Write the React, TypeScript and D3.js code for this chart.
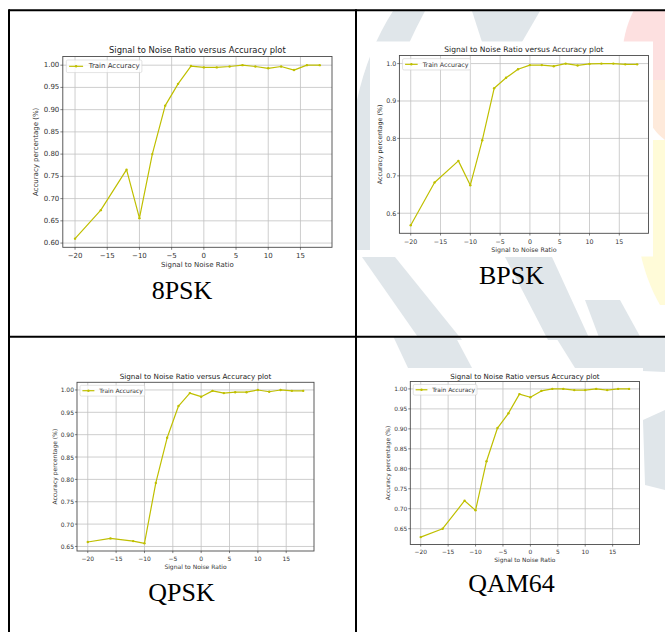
import React from "react";
import * as d3 from "d3";

// Signal-to-noise ratios (dB) at which accuracy was recorded
const SNR = [-20, -16, -12, -10, -8, -6, -4, -2, 0, 2, 4, 6, 8, 10, 12, 14, 16, 18];

// Training accuracy per modulation scheme
const ACC_8PSK = [0.61, 0.674, 0.765, 0.656, 0.8, 0.909, 0.958, 0.998, 0.995, 0.995, 0.997, 1.0, 0.997, 0.993, 0.997, 0.989, 1.0, 1.0];
const ACC_BPSK = [0.568, 0.682, 0.74, 0.675, 0.795, 0.934, 0.962, 0.985, 0.996, 0.996, 0.993, 1.0, 0.995, 0.999, 1.0, 1.0, 0.998, 0.998];
const ACC_QPSK = [0.66, 0.668, 0.662, 0.657, 0.792, 0.893, 0.964, 0.993, 0.985, 0.998, 0.993, 0.995, 0.995, 1.0, 0.996, 1.0, 0.998, 0.998];
const ACC_QAM64 = [0.629, 0.65, 0.72, 0.696, 0.819, 0.902, 0.939, 0.987, 0.979, 0.995, 1.0, 1.0, 0.997, 0.997, 1.0, 0.997, 1.0, 1.0];

// Tick values
const X_TICKS = [-20, -15, -10, -5, 0, 5, 10, 15];
const Y_TICKS_005 = [0.6, 0.65, 0.7, 0.75, 0.8, 0.85, 0.9, 0.95, 1.0];
const Y_TICKS_01 = [0.6, 0.7, 0.8, 0.9, 1.0];

const TITLE = "Signal to Noise Ratio versus Accuracy plot";
const X_LABEL = "Signal to Noise Ratio";
const Y_LABEL = "Accuracy percentage (%)";
const LEGEND_LABEL = "Train Accuracy";

const LINE_COLOR = "#bfbf00";
const FONT = "'DejaVu Sans', sans-serif";

type PanelSpec = {
  caption: string;
  values: number[];
  yTicks: number[];
  yFormat: string;
  frame: { x0: number; x1: number; y0: number; y1: number };
  font: number;
  captionPos: { x: number; y: number };
  backdrop?: { x: number; y: number; w: number; h: number };
};

const PANELS: PanelSpec[] = [
  {
    caption: "8PSK",
    values: ACC_8PSK,
    yTicks: Y_TICKS_005,
    yFormat: ".2f",
    frame: { x0: 62.8, x1: 332, y0: 56.5, y1: 247.3 },
    font: 7,
    captionPos: { x: 182, y: 299 },
  },
  {
    caption: "BPSK",
    values: ACC_BPSK,
    yTicks: Y_TICKS_01,
    yFormat: ".1f",
    frame: { x0: 399.4, x1: 648.5, y0: 55.5, y1: 233.3 },
    font: 6.3,
    captionPos: { x: 511.5, y: 283.5 },
    backdrop: { x: 370, y: 41.5, w: 283, h: 215 },
  },
  {
    caption: "QPSK",
    values: ACC_QPSK,
    yTicks: Y_TICKS_005,
    yFormat: ".2f",
    frame: { x0: 77, x1: 314, y0: 382.3, y1: 551 },
    font: 6,
    captionPos: { x: 181.5, y: 600.5 },
  },
  {
    caption: "QAM64",
    values: ACC_QAM64,
    yTicks: Y_TICKS_005,
    yFormat: ".2f",
    frame: { x0: 410.3, x1: 639.5, y0: 381.5, y1: 544.5 },
    font: 5.9,
    captionPos: { x: 511.5, y: 591.5 },
    backdrop: { x: 378, y: 368, w: 265, h: 200 },
  },
];

// Axis limits padded by 5% of the data span on each side
function padded(vals: number[]): [number, number] {
  const [lo, hi] = d3.extent(vals) as [number, number];
  const m = (hi - lo) * 0.05;
  return [lo - m, hi + m];
}

function Panel({ p }: { p: PanelSpec }) {
  const { frame, font } = p;
  const x = d3.scaleLinear().domain(padded(SNR)).range([frame.x0, frame.x1]);
  const y = d3.scaleLinear().domain(padded(p.values)).range([frame.y1, frame.y0]);
  const [ylo, yhi] = y.domain();
  const yTicks = p.yTicks.filter((t) => t >= ylo - 1e-9 && t <= yhi + 1e-9);
  const fmtY = d3.format(p.yFormat);
  const fmtX = d3.format("d");
  const tickLen = font * 0.35;
  const pts = SNR.map((s, i) => [s, p.values[i]] as [number, number]);
  const line = d3
    .line<[number, number]>()
    .x((d) => x(d[0]))
    .y((d) => y(d[1]));
  const tickEm = p.yFormat === ".2f" ? 2.227 : 1.59;
  const yLabelX = frame.x0 - font * (0.5 + tickEm + 1.1);
  const midX = (frame.x0 + frame.x1) / 2;
  const midY = (frame.y0 + frame.y1) / 2;

  // legend box geometry
  const lgX = frame.x0 + font * 0.5;
  const lgY = frame.y0 + font * 0.5;
  const lgW = font * 10.8;
  const lgH = font * 1.8;
  const lgMid = lgY + lgH / 2;

  const clipId = `clip-${p.caption}`;

  return (
    <g>
      {p.backdrop && (
        <rect x={p.backdrop.x} y={p.backdrop.y} width={p.backdrop.w} height={p.backdrop.h} fill="#ffffff" />
      )}
      <defs>
        <clipPath id={clipId}>
          <rect x={frame.x0} y={frame.y0} width={frame.x1 - frame.x0} height={frame.y1 - frame.y0} />
        </clipPath>
      </defs>
      {/* grid */}
      <g stroke="#c2c2c2" strokeWidth={0.8}>
        {X_TICKS.map((t) => (
          <line key={`gx${t}`} x1={x(t)} x2={x(t)} y1={frame.y0} y2={frame.y1} />
        ))}
        {yTicks.map((t) => (
          <line key={`gy${t}`} x1={frame.x0} x2={frame.x1} y1={y(t)} y2={y(t)} />
        ))}
      </g>
      {/* series */}
      <g clipPath={`url(#${clipId})`}>
        <path d={line(pts) ?? ""} fill="none" stroke={LINE_COLOR} strokeWidth={1.2} strokeLinejoin="round" />
        {pts.map((d, i) => (
          <circle key={i} cx={x(d[0])} cy={y(d[1])} r={1.2} fill={LINE_COLOR} />
        ))}
      </g>
      {/* frame */}
      <rect
        x={frame.x0}
        y={frame.y0}
        width={frame.x1 - frame.x0}
        height={frame.y1 - frame.y0}
        fill="none"
        stroke="#4a4a4a"
        strokeWidth={0.9}
      />
      {/* ticks and labels */}
      <g fontFamily={FONT} fontSize={font} fill="#333">
        {X_TICKS.map((t) => (
          <g key={`tx${t}`}>
            <line x1={x(t)} x2={x(t)} y1={frame.y1} y2={frame.y1 + tickLen} stroke="#333" strokeWidth={0.6} />
            <text x={x(t)} y={frame.y1 + font * 1.25} textAnchor="middle" dominantBaseline="central">
              {fmtX(t)}
            </text>
          </g>
        ))}
        {yTicks.map((t) => (
          <g key={`ty${t}`}>
            <line x1={frame.x0 - tickLen} x2={frame.x0} y1={y(t)} y2={y(t)} stroke="#333" strokeWidth={0.6} />
            <text x={frame.x0 - font * 0.5} y={y(t)} textAnchor="end" dominantBaseline="central">
              {fmtY(t)}
            </text>
          </g>
        ))}
        <text x={midX} y={frame.y1 + font * 2.55} textAnchor="middle" dominantBaseline="central">
          {X_LABEL}
        </text>
        <text
          transform={`translate(${yLabelX},${midY}) rotate(-90)`}
          textAnchor="middle"
          dominantBaseline="central"
        >
          {Y_LABEL}
        </text>
        <text x={midX} y={frame.y0 - font * 0.5} textAnchor="middle" fontSize={font * 1.2} fill="#222">
          {TITLE}
        </text>
      </g>
      {/* legend */}
      <g>
        <rect x={lgX} y={lgY} width={lgW} height={lgH} rx={1.5} fill="#ffffff" fillOpacity={0.8} stroke="#d0d0d0" strokeWidth={0.6} />
        <line x1={lgX + font * 0.4} x2={lgX + font * 2.4} y1={lgMid} y2={lgMid} stroke={LINE_COLOR} strokeWidth={1.2} />
        <circle cx={lgX + font * 1.4} cy={lgMid} r={1.2} fill={LINE_COLOR} />
        <text x={lgX + font * 3.2} y={lgMid} fontFamily={FONT} fontSize={font} fill="#333" dominantBaseline="central">
          {LEGEND_LABEL}
        </text>
      </g>
      {/* caption under the chart */}
      <text
        x={p.captionPos.x}
        y={p.captionPos.y}
        textAnchor="middle"
        fontFamily="'Liberation Serif', 'Times New Roman', serif"
        fontSize={26}
        fill="#000"
      >
        {p.caption}
      </text>
    </g>
  );
}

// Faint emblem behind the right-hand column
function Emblem() {
  const grey = "#e0e6ea";
  return (
    <g>
      <clipPath id="emblem-clip">
        <rect x={357} y={11} width={308} height={621} />
      </clipPath>
      <g clipPath="url(#emblem-clip)">
        <path d="M 640 0 C 612 40, 615 110, 665 130 L 665 0 Z" fill="#fde0e0" />
        <path d="M 645 80 C 638 100, 645 125, 665 140 L 665 80 Z" fill="#feeadb" />
        <path d="M 650 140 C 630 170, 628 250, 660 305 L 665 305 L 665 140 Z" fill="#fffbd8" />
        <path d="M 393 11 L 425 11 Q 388 80 374 150 L 371 250 L 357 250 L 357 100 Q 368 50 393 11 Z" fill={grey} />
        <path d="M 472 11 L 540 11 L 522 42 L 482 42 Z" fill={grey} />
        <path d="M 362 257 L 395 257 L 462 340 L 420 340 Z" fill={grey} />
        <path d="M 505 257 L 552 257 L 590 340 L 548 340 Z" fill={grey} />
        <path d="M 585 300 L 620 300 L 642 340 L 600 340 Z" fill={grey} />
        <path d="M 393 336 L 455 336 L 472 368 L 408 368 Z" fill={grey} />
        <path d="M 555 336 L 665 336 L 665 372 L 575 368 Z" fill={grey} />
        <path d="M 643 420 L 665 410 L 665 490 L 645 485 Z" fill={grey} />
      </g>
    </g>
  );
}

export default function App() {
  return (
    <svg
      width={665}
      height={632}
      viewBox="0 0 665 632"
      style={{ position: "absolute", left: 0, top: 0, background: "#fff" }}
    >
      <rect x={0} y={0} width={665} height={632} fill="#fff" />
      <Emblem />
      {PANELS.map((p) => (
        <Panel key={p.caption} p={p} />
      ))}
      {/* table rules */}
      <g stroke="#000" strokeWidth={2}>
        <line x1={9} x2={665} y1={10.3} y2={10.3} />
        <line x1={9} x2={9} y1={9.3} y2={632} />
        <line x1={356} x2={356} y1={9.3} y2={632} />
        <line x1={9} x2={665} y1={336.7} y2={336.7} />
      </g>
    </svg>
  );
}
